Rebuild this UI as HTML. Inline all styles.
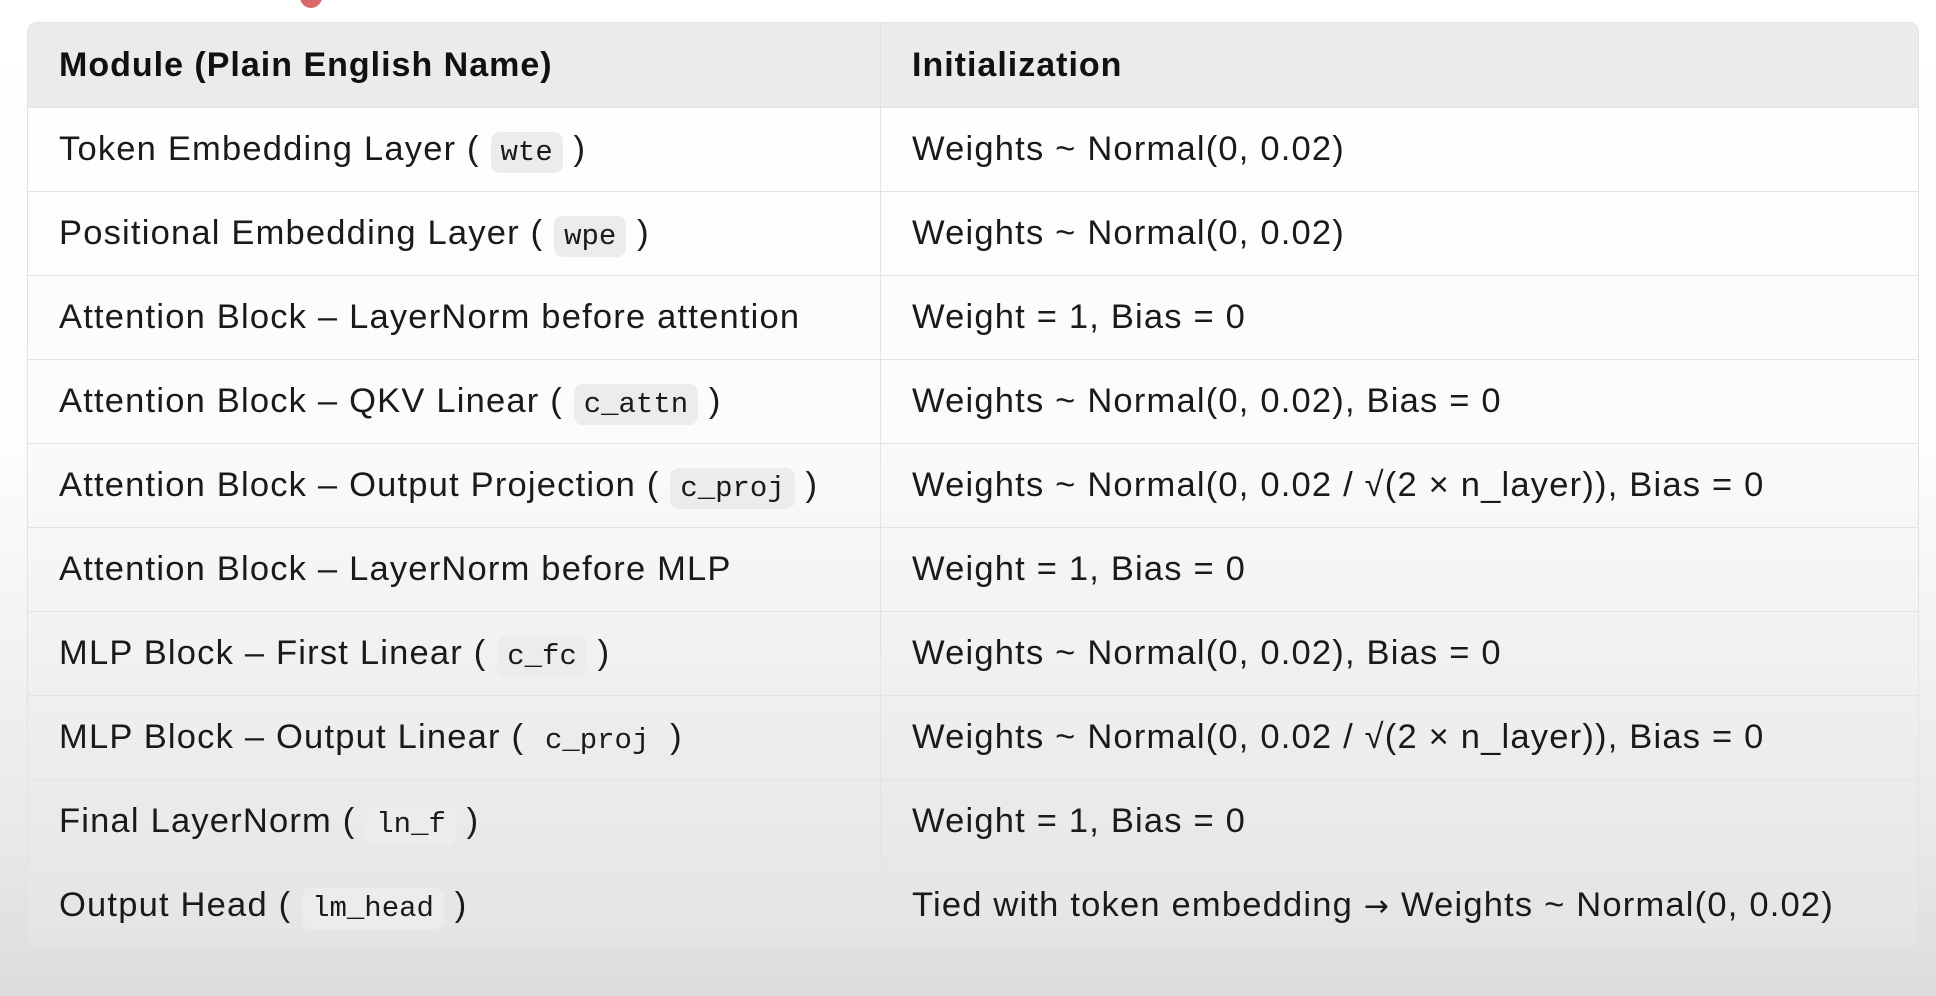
<!DOCTYPE html>
<html><head><meta charset="utf-8"><style>
html,body{margin:0;padding:0;width:1936px;height:996px;overflow:hidden;}
body{background:linear-gradient(to bottom,#ffffff 0%,#fdfdfd 45%,#e8e8e8 85%,#dcdcdc 100%);font-family:"Liberation Sans",sans-serif;position:relative;}
.dot{position:absolute;left:300px;top:-14px;width:22px;height:22px;border-radius:50%;background:#d96a6a;}
.tbl{position:absolute;left:27px;top:22px;width:1890px;height:923px;border:1px solid #e2e2e2;border-radius:10px;overflow:hidden;background:linear-gradient(to bottom,#ffffff 0%,#fbfbfb 45%,#eaeaea 85%,#e4e4e4 100%);}
table{border-collapse:collapse;width:100%;}
td,th{height:83px;border-bottom:1px solid #e3e3e3;font-size:34.5px;letter-spacing:1.2px;color:#1a1a1a;text-align:left;padding:0 0 0 31px;white-space:nowrap;}
th{height:84px;background:#ebebeb;font-weight:bold;color:#111;font-size:34px;letter-spacing:1px;}
td:first-child,th:first-child{width:821px;border-right:1px solid #e3e3e3;}
tr:last-child td{border-bottom:none;}
code{font-family:"Liberation Mono",monospace;font-size:29px;letter-spacing:0;background:#ececec;border-radius:9px;padding:4px 10px;}
.ar{font-family:"DejaVu Sans",sans-serif;font-size:30px;}
</style></head><body>
<div class="dot"></div>
<div class="tbl"><table>
<tr><th>Module (Plain English Name)</th><th>Initialization</th></tr>
<tr><td>Token Embedding Layer ( <code>wte</code> )</td><td>Weights ~ Normal(0, 0.02)</td></tr>
<tr><td>Positional Embedding Layer ( <code>wpe</code> )</td><td>Weights ~ Normal(0, 0.02)</td></tr>
<tr><td>Attention Block – LayerNorm before attention</td><td>Weight = 1, Bias = 0</td></tr>
<tr><td>Attention Block – QKV Linear ( <code>c_attn</code> )</td><td>Weights ~ Normal(0, 0.02), Bias = 0</td></tr>
<tr><td>Attention Block – Output Projection ( <code>c_proj</code> )</td><td>Weights ~ Normal(0, 0.02 / √(2 × n_layer)), Bias = 0</td></tr>
<tr><td>Attention Block – LayerNorm before MLP</td><td>Weight = 1, Bias = 0</td></tr>
<tr><td>MLP Block – First Linear ( <code>c_fc</code> )</td><td>Weights ~ Normal(0, 0.02), Bias = 0</td></tr>
<tr><td>MLP Block – Output Linear ( <code>c_proj</code> )</td><td>Weights ~ Normal(0, 0.02 / √(2 × n_layer)), Bias = 0</td></tr>
<tr><td>Final LayerNorm ( <code>ln_f</code> )</td><td>Weight = 1, Bias = 0</td></tr>
<tr><td>Output Head ( <code>lm_head</code> )</td><td>Tied with token embedding <span class="ar">→</span> Weights ~ Normal(0, 0.02)</td></tr>
</table></div>
</body></html>
